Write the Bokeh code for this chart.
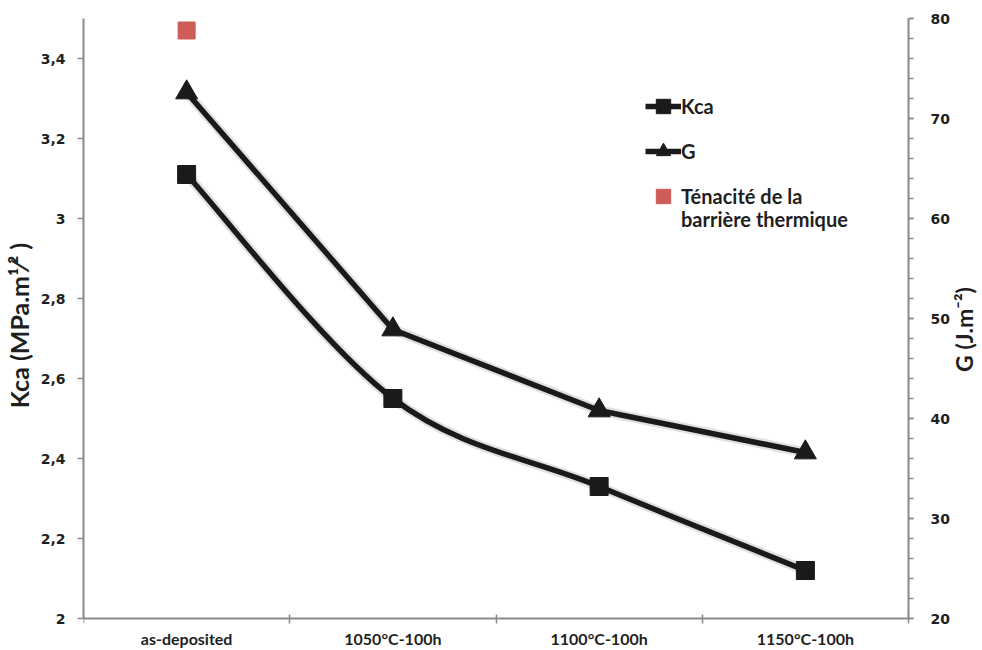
import math
from bokeh.plotting import figure
from bokeh.models import Range1d, LinearAxis, FixedTicker, Legend, LegendItem, Label
from bokeh.embed import file_html
from bokeh.resources import INLINE

# ---- data ----
categories = ["as-deposited", "1050°C-100h", "1100°C-100h", "1150°C-100h"]
kca = [3.11, 2.55, 2.33, 2.12]
g_values = [72.6, 48.9, 40.8, 36.6]
barrier_index = [0]
barrier_kca = [3.47]
kca_ticks = [2.0, 2.2, 2.4, 2.6, 2.8, 3.0, 3.2, 3.4]
kca_tick_labels = ["2", "2,2", "2,4", "2,6", "2,8", "3", "3,2", "3,4"]
g_ticks = [20, 30, 40, 50, 60, 70, 80]
g_minor_ticks = [20, 22, 24, 26, 28, 30, 32, 34, 36, 38, 40, 42, 44, 46, 48, 50,
                 52, 54, 56, 58, 60, 62, 64, 66, 68, 70, 72, 74, 76, 78, 80]

n = len(categories)
xc = [i + 0.5 for i in range(n)]
xb = [float(i) for i in range(n + 1)]
bx = [xc[i] for i in barrier_index]


def smooth_segments(xs, ys):
    """Catmull-Rom style cubic Bezier control points (like Excel smoothed lines)."""
    pts = list(zip(xs, ys))
    m = len(pts)
    d = {k: [] for k in ("x0", "y0", "x1", "y1", "cx0", "cy0", "cx1", "cy1")}
    for i in range(m - 1):
        p0 = pts[i - 1] if i > 0 else pts[i]
        p1 = pts[i]
        p2 = pts[i + 1]
        p3 = pts[i + 2] if i + 2 < m else pts[i + 1]
        d["x0"].append(p1[0]); d["y0"].append(p1[1])
        d["x1"].append(p2[0]); d["y1"].append(p2[1])
        d["cx0"].append(p1[0] + (p2[0] - p0[0]) / 6.0)
        d["cy0"].append(p1[1] + (p2[1] - p0[1]) / 6.0)
        d["cx1"].append(p2[0] - (p3[0] - p1[0]) / 6.0)
        d["cy1"].append(p2[1] - (p3[1] - p1[1]) / 6.0)
    return d


AXIS_COLOR = "#8a8a8a"
TEXT_COLOR = "#1f1f1f"
LINE_COLOR = "#1a1a1a"

# ---- layout (pixels) ----
# axes box: x from 83 to 908, y from 18 (top) to 618 (bottom); the frame fills the whole
# canvas right of the left axis so that the right axis, its title and the category labels
# (all drawn at fixed locations) are never clipped.
W, H = 982, 650
LEFT = 83
BOX_W, BOX_TOP, BOX_BOTTOM = 825, 18, 618
KCA_LO, KCA_HI = 2.0, 3.5
G_LO, G_HI = 20.0, 80.0

x_end = n * (W - LEFT) / BOX_W
k_per_px = (KCA_HI - KCA_LO) / (BOX_BOTTOM - BOX_TOP)
g_per_px = (G_HI - G_LO) / (BOX_BOTTOM - BOX_TOP)
y_range = Range1d(KCA_LO - (H - BOX_BOTTOM) * k_per_px, KCA_HI + BOX_TOP * k_per_px)
g_range = Range1d(G_LO - (H - BOX_BOTTOM) * g_per_px, G_HI + BOX_TOP * g_per_px)

p = figure(width=W, height=H, x_range=Range1d(0, x_end), y_range=y_range,
           output_backend="svg", toolbar_location=None,
           min_border_left=LEFT, min_border_right=0, min_border_top=0,
           min_border_bottom=0)
p.extra_y_ranges = {"g": g_range}
p.outline_line_color = None
p.xgrid.visible = False
p.ygrid.visible = False
p.background_fill_color = "white"

# ---- x axis (at Kca = 2) ----
xa = p.xaxis[0]
xa.fixed_location = KCA_LO
xa.bounds = (0, n)
xa.ticker = FixedTicker(ticks=xc, minor_ticks=xb)
xa.major_label_overrides = {xc[i]: categories[i] for i in range(n)}
xa.major_tick_in = 0
xa.major_tick_out = 0
xa.minor_tick_in = 4
xa.minor_tick_out = 5
xa.major_label_standoff = 5
xa.major_label_text_font = "Lato"
xa.major_label_text_font_style = "bold"
xa.major_label_text_font_size = "16px"
xa.major_label_text_color = TEXT_COLOR

# ---- left axis ----
ya = p.yaxis[0]
ya.bounds = (KCA_LO, KCA_HI)
ya.ticker = FixedTicker(ticks=kca_ticks, minor_ticks=[])
ya.major_label_overrides = {kca_ticks[i]: kca_tick_labels[i] for i in range(len(kca_ticks))}
ya.major_tick_in = 0
ya.major_tick_out = 6
ya.major_label_standoff = 12
ya.axis_label = "Kca (MPa.m¹⁄² )"
ya.axis_label_standoff = 4

# ---- right axis (drawn at the end of the category span) ----
ra = LinearAxis(y_range_name="g", fixed_location=n, bounds=(G_LO, G_HI),
                ticker=FixedTicker(ticks=g_ticks, minor_ticks=g_minor_ticks))
ra.major_tick_in = 0
ra.major_tick_out = 5
ra.minor_tick_in = 0
ra.minor_tick_out = 5
ra.major_label_standoff = 17
p.add_layout(ra, "right")

for ax in (xa, ya, ra):
    ax.axis_line_color = AXIS_COLOR
    ax.axis_line_width = 2
    ax.major_tick_line_color = AXIS_COLOR
    ax.minor_tick_line_color = AXIS_COLOR
    ax.major_tick_line_width = 1.5
    ax.minor_tick_line_width = 1.5
for ax in (ya, ra):
    ax.major_label_text_font = "DejaVu Sans"
    ax.major_label_text_font_style = "bold"
    ax.major_label_text_font_size = "14px"
    ax.major_label_text_color = TEXT_COLOR
ya.axis_label_text_font = "Lato"
ya.axis_label_text_font_style = "bold"
ya.axis_label_text_color = TEXT_COLOR
ya.axis_label_text_font_size = "25px"

# right axis title, reading bottom-to-top like the reference
g_title = Label(text="G (J.m⁻²)", x=880, y=321, x_units="screen", y_units="screen",
                angle=math.pi / 2, text_align="center", text_baseline="middle",
                text_font="Lato", text_font_style="bold", text_font_size="23px",
                text_color=TEXT_COLOR)
p.add_layout(g_title)

# ---- Kca smoothed line ----
seg = smooth_segments(xc, kca)
p.bezier(x0=seg["x0"], y0=seg["y0"], x1=seg["x1"], y1=seg["y1"],
         cx0=seg["cx0"], cy0=seg["cy0"], cx1=seg["cx1"], cy1=seg["cy1"],
         line_color="black", line_alpha=0.12, line_width=10)
kca_line = p.bezier(x0=seg["x0"], y0=seg["y0"], x1=seg["x1"], y1=seg["y1"],
                    cx0=seg["cx0"], cy0=seg["cy0"], cx1=seg["cx1"], cy1=seg["cy1"],
                    line_color=LINE_COLOR, line_width=5.5)
kca_pts = p.scatter(xc, kca, marker="square", size=18, fill_color=LINE_COLOR,
                    line_color=LINE_COLOR)

# ---- G line ----
p.line(xc, g_values, y_range_name="g", line_color="black", line_alpha=0.12, line_width=10)
g_line = p.line(xc, g_values, y_range_name="g", line_color=LINE_COLOR, line_width=5.5)
g_pts = p.scatter(xc, g_values, y_range_name="g", marker="triangle", size=22,
                  fill_color=LINE_COLOR, line_color=LINE_COLOR)

# ---- barrier toughness ----
bar_pts = p.scatter(bx, barrier_kca, marker="square", size=17, fill_color="#cf5c59",
                    line_color="#cf5c59")


def style_legend(lg, glyph_h):
    lg.border_line_color = None
    lg.background_fill_alpha = 0
    lg.padding = 0
    lg.margin = 0
    lg.spacing = 1
    lg.glyph_width = 36
    lg.glyph_height = glyph_h
    lg.label_standoff = 0
    lg.label_text_font = "Lato"
    lg.label_text_font_style = "bold"
    lg.label_text_font_size = "20px"
    lg.label_text_color = TEXT_COLOR
    lg.label_height = 20


legend = Legend(items=[
    LegendItem(label="Kca", renderers=[kca_line, kca_pts]),
    LegendItem(label="G", renderers=[g_line, g_pts]),
    LegendItem(label="Ténacité de la", renderers=[bar_pts]),
], location=(562, 432))
style_legend(legend, 44)
p.add_layout(legend, "center")

legend2 = Legend(items=[LegendItem(label="barrière thermique", renderers=[])],
                 location=(562, 419))
style_legend(legend2, 20)
p.add_layout(legend2, "center")

open("out.html", "w").write(file_html(p, INLINE))
